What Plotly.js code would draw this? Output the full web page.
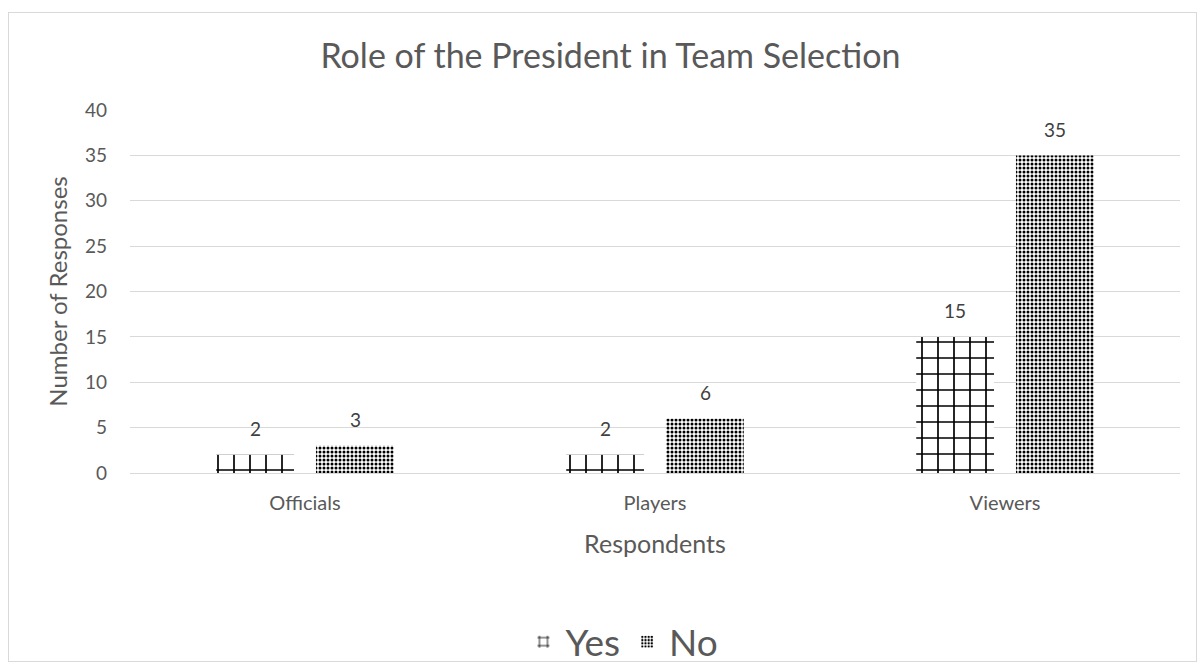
<!DOCTYPE html>
<html><head><meta charset="utf-8">
<script src="https://cdn.plot.ly/plotly-3.0.1.min.js"></script>
<style>
html,body{margin:0;padding:0;background:#fff;}
#frame{position:absolute;left:8px;top:12px;width:1187px;height:648px;border:1px solid #d9d9d9;pointer-events:none;z-index:5;}
#chart{position:absolute;left:0;top:0;width:1204px;height:664px;}
</style></head>
<body>
<div id="chart"></div><div id="frame"></div>
<script>
const categories = ["Officials", "Players", "Viewers"];
const yesValues = [2, 2, 15];
const noValues = [3, 6, 35];
const seriesNames = ["Yes", "No"];

const font = "Lato, 'Open Sans', sans-serif";
const traces = [
  {type:"bar", name:seriesNames[0], x:categories, y:yesValues,
   marker:{color:"#ffffff", line:{width:0}, pattern:{shape:"+", fgcolor:"#000000", bgcolor:"#ffffff", size:16, solidity:0.2, fillmode:"replace"}},
   hoverinfo:"skip"},
  {type:"bar", name:seriesNames[1], x:categories, y:noValues,
   marker:{color:"#ffffff", line:{width:0}, pattern:{shape:".", fgcolor:"#000000", bgcolor:"#ffffff", size:4, solidity:0.45, fillmode:"replace"}},
   hoverinfo:"skip"}
];
const annotations = [];
categories.forEach((c,i)=>{
  annotations.push({x:c, y:yesValues[i], text:String(yesValues[i]), showarrow:false, xshift:-50, yshift:26, yanchor:"middle", font:{family:font,size:19,color:"#404040"}});
  annotations.push({x:c, y:noValues[i], text:String(noValues[i]), showarrow:false, xshift:50, yshift:26, yanchor:"middle", font:{family:font,size:19,color:"#404040"}});
});
const layout = {
  width:1204, height:664,
  margin:{l:130, r:24, t:110, b:191, autoexpand:false},
  paper_bgcolor:"#ffffff", plot_bgcolor:"#ffffff",
  font:{family:font, color:"#595959"},
  title:{text:"Role of the President in Team Selection", x:0.507, xanchor:"center", y:0.915, yanchor:"middle", font:{family:font, size:34, color:"#595959"}},
  barmode:"group", bargap:0.43, bargroupgap:0.22,
  xaxis:{type:"category", showline:true, linecolor:"#d9d9d9", linewidth:1, ticks:"", tickfont:{family:font,size:20,color:"#595959"},
         ticklabelstandoff:12,
         title:{text:"Respondents", font:{family:font,size:25,color:"#595959"}, standoff:22}, automargin:false},
  yaxis:{range:[0,40], dtick:5, showgrid:true, gridcolor:"#d9d9d9", gridwidth:1, zeroline:false, showline:false, ticks:"",
         tickfont:{family:font,size:19,color:"#595959"}, ticklabelstandoff:22, automargin:false,
         title:{text:"Number of Responses", font:{family:font,size:24,color:"#595959"}, standoff:10}},
  legend:{orientation:"h", xref:"container", yref:"container", x:0.517, xanchor:"center", y:0.033, yanchor:"middle", font:{family:font,size:37,color:"#595959"}, itemwidth:34},
  annotations:annotations,
  showlegend:true
};
Plotly.newPlot("chart", traces, layout, {displayModeBar:false, staticPlot:true});
</script>
</body></html>
